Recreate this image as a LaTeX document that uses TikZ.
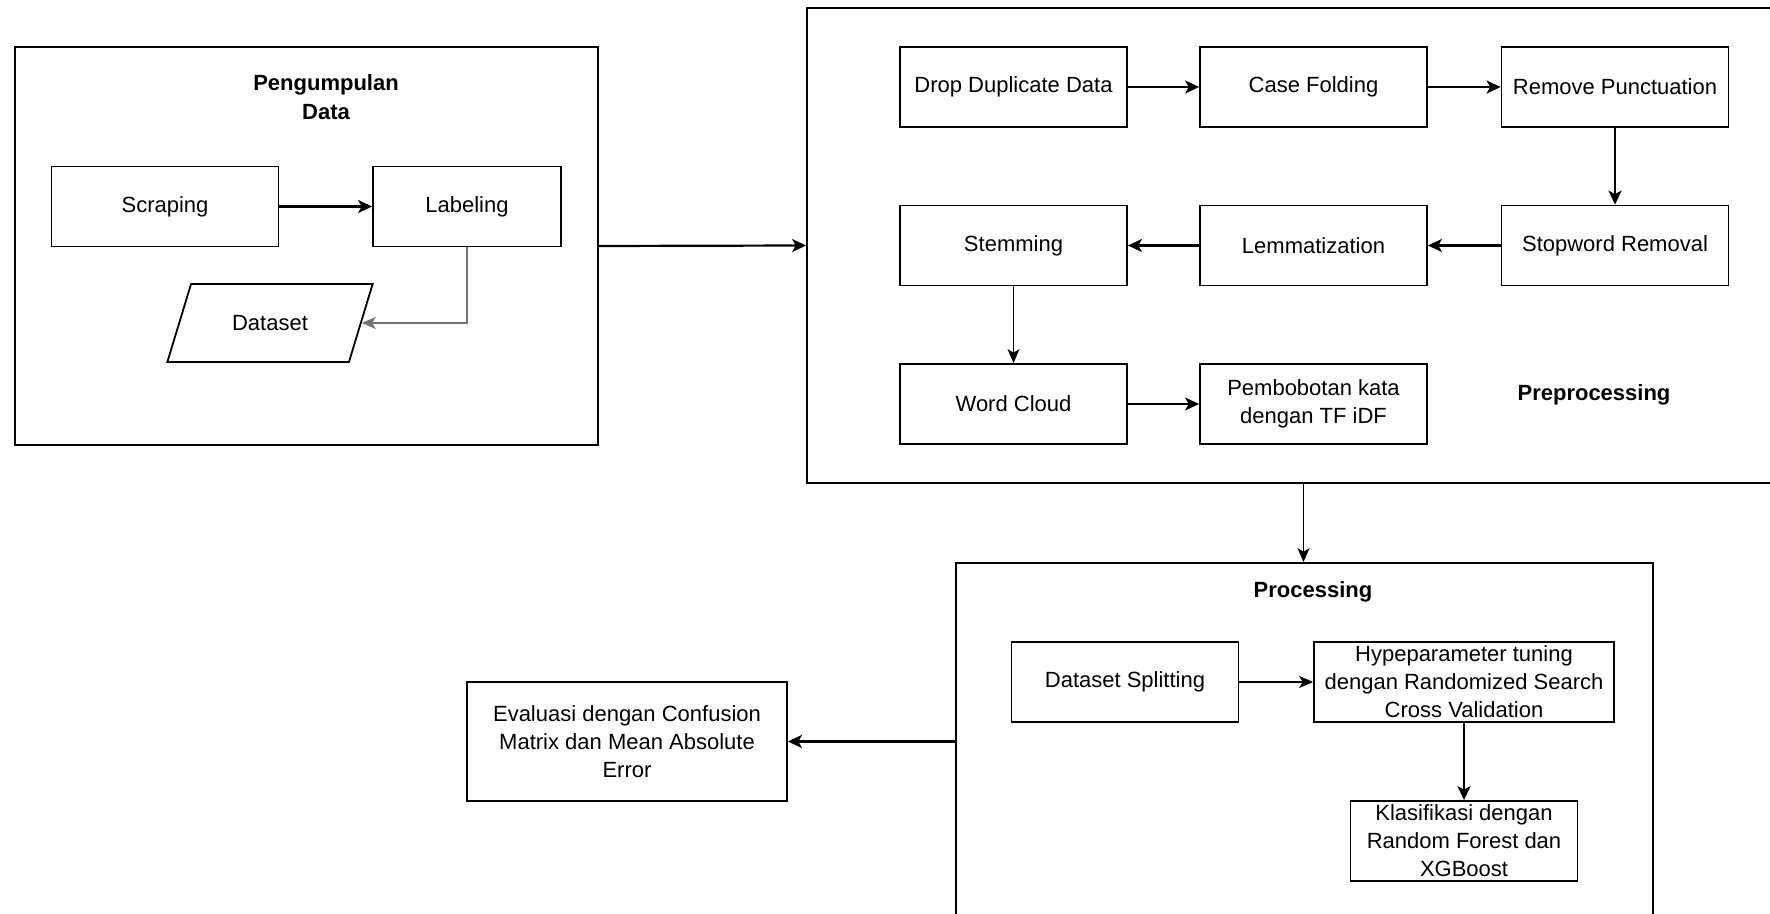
\documentclass[tikz,border=0pt]{standalone}
\usepackage{fontspec}
\setmainfont{Liberation Sans}
\usetikzlibrary{arrows.meta,shapes.geometric}

\tikzset{
  procbox/.style={draw, line width=0.9pt, minimum width=113.5pt, minimum height=40pt,
    align=center, inner sep=1pt, font=\fontsize{11}{14}\selectfont},
  framebox/.style={draw, line width=0.9pt, inner sep=0pt},
  grouptitle/.style={align=center, font=\fontsize{11}{14.5}\selectfont\bfseries},
  flow/.style={-{Stealth[length=7pt,width=6.5pt,inset=1.8pt]}, line width=1.1pt},
  thinflow/.style={-{Stealth[length=7pt,width=6pt,inset=1.8pt]}, line width=0.6pt},
}

\begin{document}
\begin{tikzpicture}[x=0.5pt, y=-0.5pt]
		%%%%% START %%%%%
		\clip (0, 0) rectangle (1770, 914);
		\fill[white] (0, 0) rectangle (1770, 914);
		
		% pengumpulan data
		\node[framebox, minimum width=291.5pt, minimum height=199pt] (pengumpulan) at (306.5, 246) {};
		\node[grouptitle] (judulA) at (326, 97) {Pengumpulan\\Data};
		\node[procbox] (scraping) at (165, 206.5) {Scraping};
		\node[procbox, minimum width=94pt] (labeling) at (467, 206.5) {Labeling};
		\node[draw, line width=0.9pt, trapezium, trapezium left angle=65, trapezium right angle=115,
			trapezium stretches=true, minimum width=103pt, minimum height=39pt,
			font=\fontsize{11}{14}\selectfont] (dataset) at (270, 323) {Dataset};
		
		\draw[flow] (scraping) -- (labeling);
		\draw[thinflow, color=black!55] (labeling.south) |- (dataset.east);
		
		% preprocessing
		\node[framebox, minimum width=496.5pt, minimum height=237.5pt] (preproc) at (1303.5, 245.5) {};
		\node[procbox] (drop) at (1013.5, 87) {Drop Duplicate Data};
		\node[procbox] (casefold) at (1313.5, 87) {Case Folding};
		\node[procbox] (punct) at (1615, 87) {Remove Punctuation};
		\node[procbox] (stopword) at (1615, 245.5) {Stopword Removal};
		\node[procbox] (lemma) at (1313.5, 245.5) {Lemmatization};
		\node[procbox] (stem) at (1013.5, 245.5) {Stemming};
		\node[procbox] (cloud) at (1013.5, 404) {Word Cloud};
		\node[procbox] (tfidf) at (1313.5, 404) {Pembobotan kata\\dengan TF iDF};
		\node[grouptitle] (judulB) at (1594, 395) {Preprocessing};
		
		\draw[flow] (drop) -- (casefold);
		\draw[flow] (casefold) -- (punct);
		\draw[flow] (punct) -- (stopword);
		\draw[flow] (stopword) -- (lemma);
		\draw[flow] (lemma) -- (stem);
		\draw[thinflow] (stem) -- (cloud);
		\draw[flow] (cloud) -- (tfidf);
		
		\draw[flow] (pengumpulan.east) -- (preproc.west);
		
		% processing
		\node[framebox, minimum width=348.5pt, minimum height=188.5pt] (processing) at (1304.5, 751.5) {};
		\node[grouptitle] (judulC) at (1313, 592) {Processing};
		\node[procbox] (split) at (1125, 682) {Dataset Splitting};
		\node[procbox, minimum width=150pt] (tuning) at (1464, 682) {Hypeparameter tuning\\dengan Randomized Search\\Cross Validation};
		\node[procbox] (klasifikasi) at (1464, 841) {Klasifikasi dengan\\Random Forest dan\\XGBoost};
		\node[procbox, minimum width=160pt, minimum height=59.5pt] (evaluasi) at (627, 741.5) {Evaluasi dengan Confusion\\Matrix dan Mean Absolute\\Error};
		
		\draw[thinflow] (preproc.south) -- (preproc.south |- processing.north);
		\draw[thinflow] (split) -- (tuning);
		\draw[flow] (tuning) -- (klasifikasi);
		\draw[flow, line width=1.6pt] (processing.west |- evaluasi.east) -- (evaluasi.east);
		
		%%%%% END %%%%%
	\end{tikzpicture}
\end{document}
